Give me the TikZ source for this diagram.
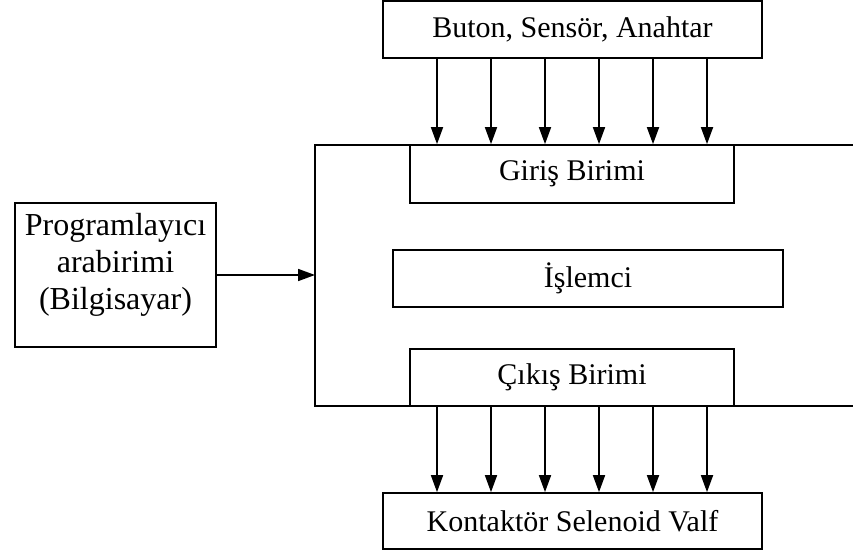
\documentclass[tikz,border=0pt]{standalone}
\usepackage{fontspec}
\setmainfont{Liberation Serif}
\usetikzlibrary{arrows.meta}
\begin{document}
\begin{tikzpicture}[x=1pt,y=-1pt,
  line width=1.7pt,
  box/.style={draw, rectangle, fill=white, inner sep=0pt,
    font=\fontsize{30}{34}\selectfont},
  arr/.style={-{Triangle[length=17pt,width=12pt]}}]
\useasboundingbox (0,0) rectangle (853,556);

% outer controller frame, open on the right
\coordinate (ftr) at (853,145);
\coordinate (ftl) at (315,145);
\coordinate (fbl) at (315,406);
\coordinate (fbr) at (853,406);
\draw (ftr) -- (ftl) -- (fbl) -- (fbr);

% blocks
\node[box, minimum width=379pt, minimum height=57pt] (inp) at (572.5,29.5) {Buton, Sensör, Anahtar};
\node[box, minimum width=324pt, minimum height=58pt] (giris) at (572,174) {Giriş Birimi};
\node[box, minimum width=390pt, minimum height=57pt] (islem) at (588,278.5) {İşlemci};
\node[box, minimum width=324pt, minimum height=57pt] (cikis) at (572,377.5) {Çıkış Birimi};
\node[box, minimum width=379pt, minimum height=56pt] (out) at (572.5,521) {Kontaktör Selenoid Valf};
\node[box, minimum width=201pt, minimum height=144pt,
  label={[yshift=10pt, align=center, font=\fontsize{32}{37}\selectfont]center:Programlayıcı\\arabirimi\\(Bilgisayar)}]
  (prog) at (115.5,275) {};

% programmer link into the frame
\draw[arr] (prog.east) -- (prog.east -| ftl);

% parallel signal lines
\foreach \i/\x in {1/437,2/491,3/545,4/599,5/653,6/707}{
  \coordinate (c\i) at (\x,0);
  \draw[arr] (inp.south -| c\i) -- (giris.north -| c\i);
  \draw[arr] (cikis.south -| c\i) -- (out.north -| c\i);
}
\end{tikzpicture}
\end{document}
